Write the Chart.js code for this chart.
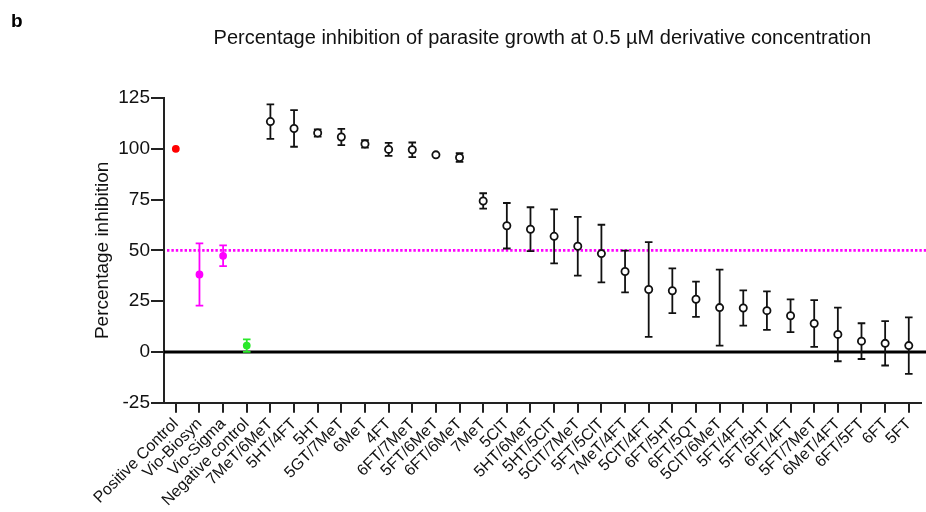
<!DOCTYPE html>
<html>
<head>
<meta charset="utf-8">
<script src="https://cdn.jsdelivr.net/npm/chart.js@4.4.1/dist/chart.umd.min.js"></script>
<style>
  body { margin: 0; background: #fff; }
  #wrap { width: 926px; height: 512px; position: relative; }
</style>
</head>
<body>
<div id="wrap"><canvas id="grafico"></canvas></div>
<script>
// categorias e valores
const compostos = ['Positive Control', 'Vio-Biosyn', 'Vio-Sigma', 'Negative control',
    '7MeT/6MeT', '5HT/4FT', '5HT', '5GT/7MeT', '6MeT', '4FT', '6FT/7MeT', '5FT/6MeT',
    '6FT/6MeT', '7MeT', '5ClT', '5HT/6MeT', '5HT/5ClT', '5ClT/7MeT', '5FT/5ClT',
    '7MeT/4FT', '5ClT/4FT', '6FT/5HT', '6FT/5QT', '5ClT/6MeT', '5FT/4FT', '5FT/5HT',
    '6FT/4FT', '5FT/7MeT', '6MeT/4FT', '6FT/5FT', '6FT', '5FT'];

const inibicao = [100, 38.1, 47.3, 3.1,
    113.4, 110, 107.8, 105.8, 102.4, 99.7, 99.5, 97.0,
    95.7, 74.3, 62.1, 60.4, 56.9, 52.0, 48.4,
    39.6, 30.7, 30.1, 25.9, 21.8, 21.6, 20.3,
    17.8, 14.0, 8.6, 5.3, 4.2, 3.1];

const desvio = [0, 15.3, 5.1, 3.1,
    8.5, 9, 1.8, 4, 1.8, 3.2, 3.6, 0,
    2.1, 3.8, 11.2, 10.8, 13.3, 14.5, 14.2,
    10.3, 23.3, 11, 8.7, 18.7, 8.7, 9.5,
    8.1, 11.5, 13.2, 8.8, 10.9, 13.9];

const yTicks = [-25, 0, 25, 50, 75, 100, 125];
const limiar = 50;
const linhaBase = 0;

const fonte = "'Liberation Sans', Arial, sans-serif";
const corControle = ['#FF0000', '#FF00FF', '#FF00FF', '#2BE82B'];

const corPonto = compostos.map((c, i) => corControle[i] || '#111111');
const preenchimento = compostos.map((c, i) => corControle[i] || '#FFFFFF');
const raio = compostos.map((c, i) => corControle[i] ? 3 : 3.6);

const barrasErro = {
    id: 'barrasErro',
    beforeDatasetsDraw(chart) {
        const ctx = chart.ctx;
        const y = chart.scales.y;
        const area = chart.chartArea;

        ctx.save();
        // linha do zero
        ctx.strokeStyle = '#000';
        ctx.lineWidth = 3;
        ctx.beginPath();
        ctx.moveTo(area.left, y.getPixelForValue(linhaBase));
        ctx.lineTo(chart.width, y.getPixelForValue(linhaBase));
        ctx.stroke();

        // linha pontilhada de 50%
        ctx.strokeStyle = '#FF00FF';
        ctx.lineWidth = 2.6;
        ctx.setLineDash([2.4, 2]);
        ctx.beginPath();
        ctx.moveTo(area.left + 3, y.getPixelForValue(limiar));
        ctx.lineTo(chart.width, y.getPixelForValue(limiar));
        ctx.stroke();
        ctx.setLineDash([]);

        const meta = chart.getDatasetMeta(0);
        meta.data.forEach((pt, i) => {
            const sd = desvio[i];
            if (!sd) return;
            const top = y.getPixelForValue(inibicao[i] + sd);
            const bot = y.getPixelForValue(inibicao[i] - sd);
            ctx.strokeStyle = corPonto[i];
            ctx.lineWidth = 1.8;
            ctx.beginPath();
            ctx.moveTo(pt.x, top);
            ctx.lineTo(pt.x, bot);
            ctx.moveTo(pt.x - 3.8, top);
            ctx.lineTo(pt.x + 3.8, top);
            ctx.moveTo(pt.x - 3.8, bot);
            ctx.lineTo(pt.x + 3.8, bot);
            ctx.stroke();
        });
        ctx.restore();
    },
    afterDraw(chart) {
        const ctx = chart.ctx;
        ctx.save();
        ctx.fillStyle = '#000';
        ctx.font = 'bold 19px ' + fonte;
        ctx.textBaseline = 'alphabetic';
        ctx.fillText('b', 11, 27);
        ctx.restore();
    }
};

new Chart('grafico', {
    type: 'line',
    data: {
        labels: compostos,
        datasets: [{
            data: inibicao,
            showLine: false,
            pointRadius: raio,
            pointHoverRadius: raio,
            pointBorderWidth: 1.8,
            pointBorderColor: corPonto,
            pointBackgroundColor: preenchimento,
        }],
    },
    options: {
        responsive: true,
        maintainAspectRatio: false,
        animation: false,
        layout: { padding: { left: 0, right: 3, top: 0, bottom: 0 } },
        plugins: {
            legend: { display: false },
            tooltip: { enabled: false },
            title: {
                display: true,
                fullSize: false,
                text: 'Percentage inhibition of parasite growth at 0.5 µM derivative concentration',
                color: '#111',
                font: { family: fonte, size: 20, weight: 'normal' },
                padding: { top: 26, bottom: 48 },
            },
        },
        scales: {
            x: {
                offset: true,
                grid: {
                    offset: false,
                    drawOnChartArea: false,
                    drawTicks: true,
                    tickLength: 10,
                    color: '#222',
                    lineWidth: 2,
                },
                border: { display: true, color: '#222', width: 2 },
                ticks: {
                    autoSkip: false,
                    minRotation: 45,
                    maxRotation: 45,
                    padding: 2,
                    color: '#111',
                    font: { family: fonte, size: 16 },
                },
            },
            y: {
                min: -25,
                max: 125,
                afterBuildTicks(scale) {
                    scale.ticks = yTicks.map(v => ({ value: v }));
                },
                afterFit(scale) {
                    scale.width = 164;
                },
                grid: {
                    drawOnChartArea: false,
                    drawTicks: true,
                    tickLength: 13,
                    color: '#222',
                    lineWidth: 2,
                },
                border: { display: true, color: '#222', width: 2 },
                ticks: {
                    padding: 1,
                    color: '#111',
                    font: { family: fonte, size: 19 },
                },
                title: {
                    display: true,
                    text: 'Percentage inhibition',
                    color: '#111',
                    font: { family: fonte, size: 19 },
                    padding: { top: 91, bottom: 0 },
                },
            },
        },
    },
    plugins: [barrasErro],
});
</script>
</body>
</html>
